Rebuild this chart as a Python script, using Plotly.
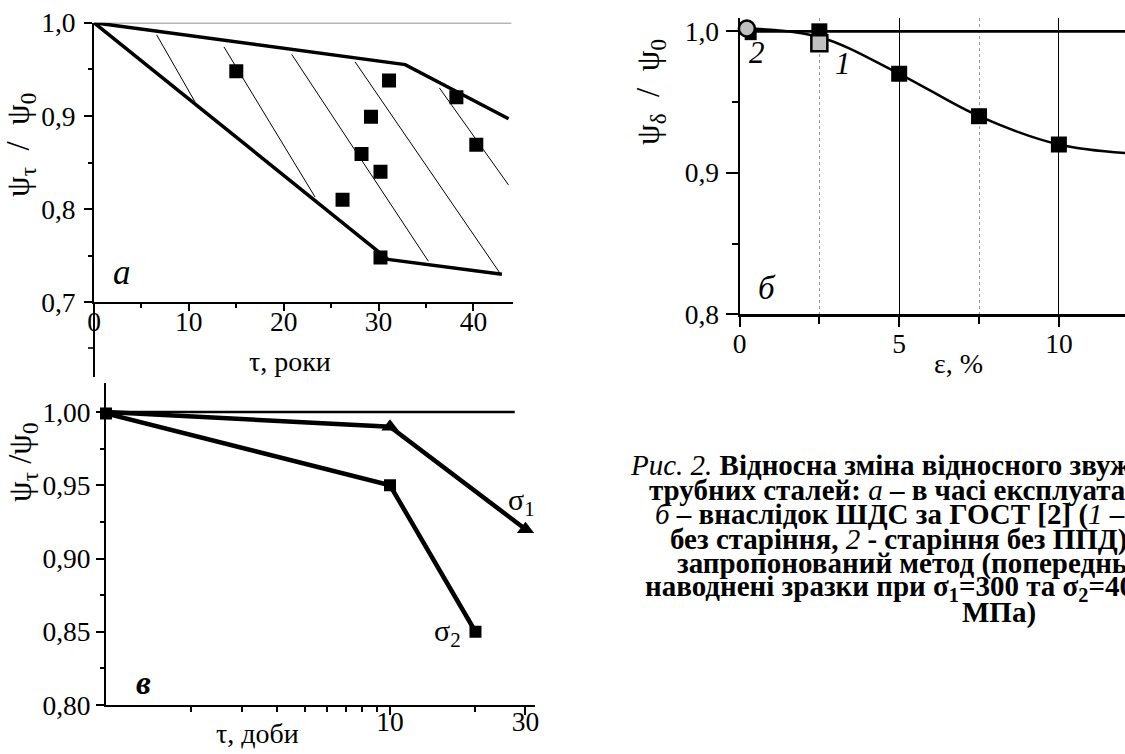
import plotly.graph_objects as go

W, H = 1125, 754
SERIF = "Liberation Serif"

# ---------------- panel а : ψτ/ψ0 vs τ, years ----------------
a_tau = [15.0, 31.1, 38.2, 29.2, 40.3, 28.2, 30.2, 26.2, 30.2]
a_psi = [0.948, 0.938, 0.920, 0.899, 0.869, 0.859, 0.840, 0.810, 0.748]
a_upper_tau = [0, 32.8, 43.7]
a_upper_psi = [1.0, 0.955, 0.897]
a_lower_tau = [0, 31.0, 43.0]
a_lower_psi = [1.0, 0.746, 0.730]
a_hatch_tau = [[6.6, 10.65], [13.7, 23.3], [20.84, 35.25], [27.52, 42.81], [36.41, 43.69]]
a_hatch_psi = [[0.987, 0.915], [0.974, 0.813], [0.966, 0.744], [0.958, 0.731], [0.930, 0.826]]
a_ref_tau = [0, 44.0]
a_ref_psi = [1.0, 1.0]
a_xticks = [0, 10, 20, 30, 40]
a_xlabels = ["0", "10", "20", "30", "40"]
a_xminor = [5, 15, 25, 35]
a_yticks = [0.7, 0.8, 0.9, 1.0]
a_ylabels = ["0,7", "0,8", "0,9", "1,0"]
a_yminor = [0.75, 0.85, 0.95]

# ---------------- panel б : ψδ/ψ0 vs ε, % ----------------
b_eps = [2.5, 5, 7.5, 10]
b_psi = [1.0, 0.97, 0.94, 0.92]
b_curve_eps = [0.23, 2.5, 5, 7.5, 10, 12.07]
b_curve_psi = [1.002, 0.996, 0.970, 0.940, 0.920, 0.914]
b_aged_eps = [0.35]          # black square under circle
b_aged_psi = [0.998]
b_s1_eps = [2.5]             # 1 – ШДС без старіння (grey square)
b_s1_psi = [0.9915]
b_s2_eps = [0.23]            # 2 – старіння без ППД (grey circle)
b_s2_psi = [1.002]
b_ref_eps = [0, 12.07]
b_ref_psi = [1.0, 1.0]
b_xticks = [0, 5, 10]
b_xlabels = ["0", "5", "10"]
b_xminor = [2.5, 7.5]
b_yticks = [0.8, 0.9, 1.0]
b_ylabels = ["0,8", "0,9", "1,0"]
b_yminor = [0.85, 0.95]

# ---------------- panel в : ψτ/ψ0 vs τ, days (log) ----------------
c_s1_tau = [1, 10, 30]
c_s1_psi = [1.0, 0.99, 0.92]
c_s2_tau = [1, 10, 20]
c_s2_psi = [0.999, 0.95, 0.85]
c_ref_tau = [1, 27.5]
c_ref_psi = [1.0, 1.0]
c_xticks = [10, 30]
c_xlabels = ["10", "30"]
c_xminor = [2, 3, 4, 5, 6, 7, 8, 9, 20]
c_yticks = [0.80, 0.85, 0.90, 0.95, 1.00]
c_ylabels = ["0,80", "0,85", "0,90", "0,95", "1,00"]
c_yminor = [0.825, 0.875, 0.925, 0.975]


def px(x):
    return x / W


def py(y):
    return 1 - y / H


fig = go.Figure()

# --- panel а traces
fig.add_trace(go.Scatter(x=a_ref_tau, y=a_ref_psi, mode="lines",
                         line=dict(color="#6e6e6e", width=1.5), xaxis="x", yaxis="y", cliponaxis=False))
hx, hy = [], []
for xs, ys in zip(a_hatch_tau, a_hatch_psi):
    hx += xs + [None]
    hy += ys + [None]
fig.add_trace(go.Scatter(x=hx, y=hy, mode="lines", line=dict(color="black", width=1),
                         xaxis="x", yaxis="y"))
fig.add_trace(go.Scatter(x=a_upper_tau, y=a_upper_psi, mode="lines",
                         line=dict(color="black", width=3.5), xaxis="x", yaxis="y", cliponaxis=False))
fig.add_trace(go.Scatter(x=a_lower_tau, y=a_lower_psi, mode="lines",
                         line=dict(color="black", width=3.5), xaxis="x", yaxis="y", cliponaxis=False))
fig.add_trace(go.Scatter(x=a_tau, y=a_psi, mode="markers",
                         marker=dict(symbol="square", size=14, color="black"),
                         xaxis="x", yaxis="y"))

# --- panel б traces
fig.add_trace(go.Scatter(x=b_ref_eps, y=b_ref_psi, mode="lines",
                         line=dict(color="black", width=2.7), xaxis="x2", yaxis="y2", cliponaxis=False))
fig.add_trace(go.Scatter(x=b_curve_eps, y=b_curve_psi, mode="lines",
                         line=dict(color="black", width=2.5, shape="spline", smoothing=1.0),
                         xaxis="x2", yaxis="y2", cliponaxis=False))
fig.add_trace(go.Scatter(x=b_aged_eps, y=b_aged_psi, mode="markers",
                         marker=dict(symbol="square", size=12, color="black"),
                         xaxis="x2", yaxis="y2", cliponaxis=False))
fig.add_trace(go.Scatter(x=b_eps, y=b_psi, mode="markers",
                         marker=dict(symbol="square", size=16, color="black"),
                         xaxis="x2", yaxis="y2", cliponaxis=False))
fig.add_trace(go.Scatter(x=b_s1_eps, y=b_s1_psi, mode="markers",
                         marker=dict(symbol="square", size=16, color="#c0c0c0",
                                     line=dict(color="black", width=2.5)),
                         xaxis="x2", yaxis="y2", cliponaxis=False))
fig.add_trace(go.Scatter(x=b_s2_eps, y=b_s2_psi, mode="markers",
                         marker=dict(symbol="circle", size=16, color="#c0c0c0",
                                     line=dict(color="black", width=2.5)),
                         xaxis="x2", yaxis="y2", cliponaxis=False))

# --- panel в traces
fig.add_trace(go.Scatter(x=c_ref_tau, y=c_ref_psi, mode="lines",
                         line=dict(color="black", width=2.5), xaxis="x3", yaxis="y3", cliponaxis=False))
fig.add_trace(go.Scatter(x=c_s1_tau, y=c_s1_psi, mode="lines",
                         line=dict(color="black", width=4.5), xaxis="x3", yaxis="y3", cliponaxis=False))
fig.add_trace(go.Scatter(x=c_s2_tau, y=c_s2_psi, mode="lines",
                         line=dict(color="black", width=4.5), xaxis="x3", yaxis="y3", cliponaxis=False))
fig.add_trace(go.Scatter(x=c_s1_tau[1:], y=c_s1_psi[1:], mode="markers",
                         marker=dict(symbol="triangle-up", size=15, color="black"),
                         xaxis="x3", yaxis="y3", cliponaxis=False))
fig.add_trace(go.Scatter(x=c_s2_tau, y=c_s2_psi, mode="markers",
                         marker=dict(symbol="square", size=12, color="black"),
                         xaxis="x3", yaxis="y3", cliponaxis=False))

tickfont = dict(family=SERIF, size=27.5, color="black")


def axis(domain, rng, tickvals, ticktext, minorvals, ticklen, minorlen, anchor,
         lw=2, mtype="linear", grid=False, standoff=0):
    d = dict(domain=domain, range=rng, type=mtype, anchor=anchor, automargin=False,
             showline=True, linecolor="black", linewidth=lw,
             ticks="outside", tickcolor="black", tickwidth=lw * 0.8, ticklen=ticklen,
             tickmode="array", tickvals=tickvals, ticktext=ticktext,
             tickfont=tickfont, zeroline=False, showgrid=grid,
             ticklabelstandoff=standoff,
             minor=dict(tickmode="array", tickvals=minorvals, ticks="outside",
                        ticklen=minorlen, tickcolor="black", tickwidth=lw * 0.8,
                        showgrid=False))
    return d


layout = dict(
    width=W, height=H, margin=dict(l=0, r=0, t=0, b=0, pad=0, autoexpand=False),
    paper_bgcolor="white", plot_bgcolor="white", showlegend=False,
    font=dict(family=SERIF, color="black"),
)

# panel а axes
layout["xaxis"] = axis([px(94), px(513.3)], [0, 44.2], a_xticks, a_xlabels, a_xminor, 7, 4, "y",
                       standoff=-13)
layout["yaxis"] = axis([py(302.3), py(22.7)], [0.7, 1.0], a_yticks, a_ylabels, a_yminor, 8, 4, "x",
                       standoff=3)
# panel б axes
bx = axis([px(739.5), 1.0], [0, 12.07], b_xticks, b_xlabels, b_xminor, 10, 7, "y2", lw=3, grid=True,
          standoff=-7)
bx["gridcolor"] = "black"
bx["gridwidth"] = 1.2
bx["minor"].update(showgrid=True, gridcolor="#9a9a9a", gridwidth=1, griddash="dot")
layout["xaxis2"] = bx
layout["yaxis2"] = axis([py(314.3), py(18.3)], [0.8, 1.0092], b_yticks, b_ylabels, b_yminor, 12, 6, "x2",
                        lw=2, standoff=1)
# panel в axes
layout["xaxis3"] = axis([px(106), px(535)], [0, 1.5106], c_xticks, c_xlabels, c_xminor, 8, 5, "y3",
                        mtype="log", standoff=-17)
layout["yaxis3"] = axis([py(705), py(383.3)], [0.8, 1.0196], c_yticks, c_ylabels, c_yminor, 8, 4, "x3",
                        standoff=0)

fig.update_layout(**layout)

ann = []


def txt(x, y, text, size, angle=0, xanchor="center", yanchor="middle"):
    ann.append(dict(x=px(x), y=py(y), xref="paper", yref="paper", text=text, showarrow=False,
                    textangle=angle, xanchor=xanchor, yanchor=yanchor,
                    font=dict(family=SERIF, size=size, color="black")))


# axis titles
txt(20, 145, "ψ<sub>τ</sub>  /  ψ<sub>0</sub>", 33, angle=-90)
txt(290, 362, "τ, роки", 28)
txt(651, 92, "ψ<sub>δ</sub>  /  ψ<sub>0</sub>", 33, angle=-90)
txt(958, 363, "ε, %", 28)
txt(22, 462, "ψ<sub>τ</sub> /ψ<sub>0</sub>", 33, angle=-90)
txt(257, 733, "τ, доби", 28)

# panel letters and curve labels
txt(122, 272, "<i>а</i>", 35)
txt(767, 288, "<i>б</i>", 33)
txt(143, 683, "<b><i>в</i></b>", 33)
txt(757, 52, "<i>2</i>", 31)
txt(843, 64, "<i>1</i>", 31)
txt(521, 502, "σ<sub>1</sub>", 30)
txt(447, 633, "σ<sub>2</sub>", 30)

# caption
cap = [
    (628, 465, "<i>Рис. 2.</i> <b>Відносна зміна відносного звуження</b>"),
    (647, 490, "<b>трубних сталей: </b><i>а</i><b> – в часі експлуатації;</b>"),
    (653, 514, "<i>б</i><b> – внаслідок ШДС за ГОСТ [2] (</b><i>1</i><b> – ШДС</b>"),
    (668, 539, "<b>без старіння, </b><i>2</i><b> - старіння без ППД); </b><i>в</i><b> –</b>"),
    (675, 563, "<b>запропонований метод (попередньо</b>"),
    (643, 588, "<b>наводнені зразки при σ<sub>1</sub>=300 та σ<sub>2</sub>=400</b>"),
    (960, 612, "<b>МПа)</b>"),
]
for x, y, t in cap:
    txt(x, y, t, 29, xanchor="left")

fig.update_layout(annotations=ann)

# extension of panel а vertical axis below its x-axis, with a stray tick
fig.update_layout(shapes=[
    dict(type="line", xref="paper", yref="paper", x0=px(94), x1=px(94), y0=py(302), y1=py(377),
         line=dict(color="black", width=2)),
    dict(type="line", xref="paper", yref="paper", x0=px(88), x1=px(94), y0=py(348), y1=py(348),
         line=dict(color="black", width=1.6)),
])

fig.write_html("out.html")
